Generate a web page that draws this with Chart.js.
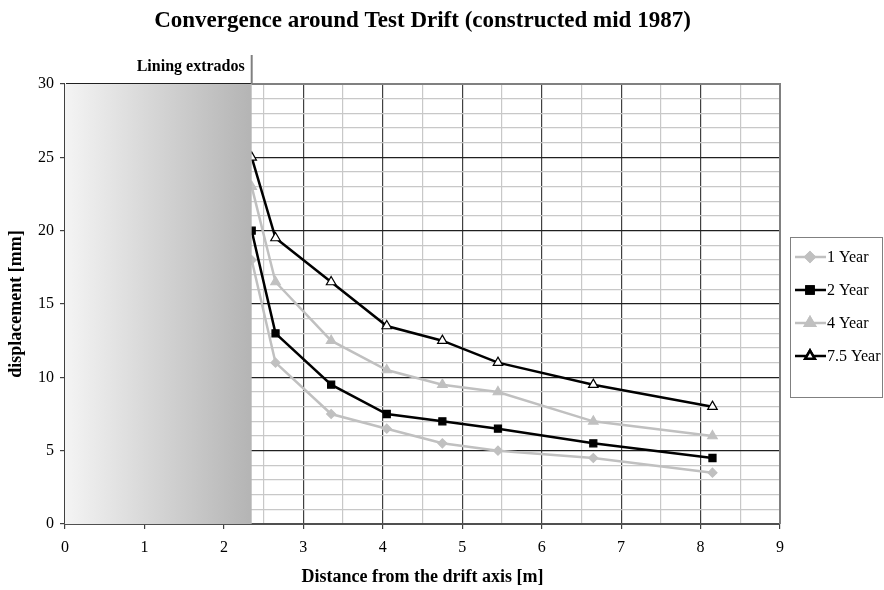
<!DOCTYPE html>
<html>
<head>
<meta charset="utf-8">
<script src="https://cdn.jsdelivr.net/npm/chart.js@4/dist/chart.umd.min.js"></script>
<style>
  body { margin: 0; background: #fff; }
  #wrap { width: 884px; height: 590px; }
</style>
</head>
<body>
<div id="wrap"><canvas id="chart"></canvas></div>
<script>
const distances = [2.35, 2.65, 3.35, 4.05, 4.75, 5.45, 6.65, 8.15];
const year1 = [18, 11, 7.5, 6.5, 5.5, 5, 4.5, 3.5];
const year2 = [20, 13, 9.5, 7.5, 7, 6.5, 5.5, 4.5];
const year4 = [23, 16.5, 12.5, 10.5, 9.5, 9, 7, 6];
const year75 = [25, 19.5, 16.5, 13.5, 12.5, 11, 9.5, 8];
const liningX = 2.35;
const liningLabel = 'Lining extrados';
const chartTitle = 'Convergence around Test Drift (constructed mid 1987)';

const serif = "'Liberation Serif', 'DejaVu Serif', serif";

function pts(ys) {
  return distances.map((x, i) => ({ x: x, y: ys[i] }));
}

const grey = '#c0c0c0';

// gradient over the lining zone, border, lining marker, title and legend
const extras = {
  id: 'extras',
  afterDatasetsDraw(chart) {
    const ctx = chart.ctx;
    const a = chart.chartArea;
    const xs = chart.scales.x;
    const xl = xs.getPixelForValue(liningX);
    const g = ctx.createLinearGradient(a.left, 0, xl, 0);
    g.addColorStop(0, '#f4f4f4');
    g.addColorStop(1, '#b4b4b4');
    ctx.save();
    ctx.fillStyle = g;
    ctx.fillRect(a.left, a.top, xl - a.left, a.bottom - a.top);

    // top and right border
    ctx.strokeStyle = '#808080';
    ctx.lineWidth = 2;
    ctx.beginPath();
    ctx.moveTo(xl, a.top);
    ctx.lineTo(a.right, a.top);
    ctx.lineTo(a.right, a.bottom);
    ctx.stroke();

    // lining marker above the plot
    ctx.beginPath();
    ctx.moveTo(xl, a.top);
    ctx.lineTo(xl, a.top - 29);
    ctx.stroke();
    ctx.fillStyle = '#000';
    ctx.font = 'bold 16px ' + serif;
    ctx.textAlign = 'right';
    ctx.textBaseline = 'middle';
    ctx.fillText(liningLabel, xl - 7, a.top - 17);

    // title, centred on the plot area
    ctx.font = 'bold 23px ' + serif;
    ctx.textAlign = 'center';
    ctx.fillText(chartTitle, (a.left + a.right) / 2, 21);

    // legend
    const lx = a.right + 10, ly = 237, lw = 92, lh = 160;
    ctx.fillStyle = '#fff';
    ctx.fillRect(lx, ly, lw, lh);
    ctx.strokeStyle = '#808080';
    ctx.lineWidth = 1;
    ctx.strokeRect(lx + 0.5, ly + 0.5, lw, lh);
    chart.data.datasets.forEach((ds, i) => {
      const y = ly + 20 + i * 33;
      ctx.strokeStyle = ds.borderColor;
      ctx.lineWidth = 2.5;
      ctx.beginPath();
      ctx.moveTo(lx + 5, y);
      ctx.lineTo(lx + 36, y);
      ctx.stroke();
      Chart.helpers.drawPoint(ctx, {
        pointStyle: ds.pointStyle,
        radius: ds.pointRadius,
        borderWidth: 1.2,
        rotation: 0
      }, lx + 20, y);
      ctx.fillStyle = ds.pointBackgroundColor;
      ctx.strokeStyle = ds.pointBorderColor;
      ctx.fill();
      ctx.stroke();
      ctx.fillStyle = '#000';
      ctx.font = '16px ' + serif;
      ctx.textAlign = 'left';
      ctx.fillText(ds.label, lx + 37, y + 1);
    });
    ctx.restore();
  }
};

function series(label, ys, color, style, fill, r) {
  return {
    label: label,
    data: pts(ys),
    borderColor: color,
    borderWidth: 2.5,
    pointStyle: style,
    pointRadius: r,
    pointBackgroundColor: fill,
    pointBorderColor: color,
    pointBorderWidth: 1.2,
    tension: 0
  };
}

new Chart(document.getElementById('chart'), {
  type: 'line',
  data: {
    datasets: [
      series('1 Year', year1, grey, 'rectRot', grey, 4.5),
      series('2 Year', year2, '#000', 'rect', '#000', 5),
      series('4 Year', year4, grey, 'triangle', grey, 5.5),
      series('7.5 Year', year75, '#000', 'triangle', '#fff', 5.5)
    ]
  },
  options: {
    responsive: true,
    maintainAspectRatio: false,
    animation: false,
    layout: { padding: { left: 0, right: 104, top: 84, bottom: 0 } },
    plugins: {
      legend: { display: false },
      tooltip: { enabled: false },
      title: { display: false }
    },
    scales: {
      x: {
        type: 'linear',
        min: 0,
        max: 9,
        afterFit(s) { s.height = 66; },
        ticks: {
          stepSize: 0.5,
          color: '#000',
          font: { family: serif, size: 16 },
          padding: 9,
          maxRotation: 0,
          autoSkip: false,
          callback: v => Number.isInteger(v) ? v : ''
        },
        grid: {
          color: c => Number.isInteger(c.tick.value) ? '#404040' : '#c8c8c8',
          lineWidth: 1.2,
          tickLength: 5,
          tickColor: c => Number.isInteger(c.tick.value) ? '#404040' : 'rgba(0,0,0,0)'
        },
        border: { color: '#505050', width: 2 },
        title: {
          display: true,
          text: 'Distance from the drift axis [m]',
          color: '#000',
          font: { family: serif, size: 18, weight: 'bold' },
          padding: { top: 4, bottom: 2 }
        }
      },
      y: {
        min: 0,
        max: 30,
        afterFit(s) { s.width = 65; },
        ticks: {
          stepSize: 1,
          color: '#000',
          font: { family: serif, size: 16 },
          padding: 6,
          autoSkip: false,
          callback: v => v % 5 === 0 ? v : ''
        },
        grid: {
          color: c => c.tick.value % 5 === 0 ? '#202020' : '#c8c8c8',
          lineWidth: 1.2,
          tickLength: 5,
          tickColor: c => c.tick.value % 5 === 0 ? '#404040' : 'rgba(0,0,0,0)'
        },
        border: { color: '#505050', width: 1 },
        title: {
          display: true,
          text: 'displacement [mm]',
          color: '#000',
          font: { family: serif, size: 18, weight: 'bold' },
          padding: { top: 6, bottom: 0 }
        }
      }
    }
  },
  plugins: [extras]
});
</script>
</body>
</html>
